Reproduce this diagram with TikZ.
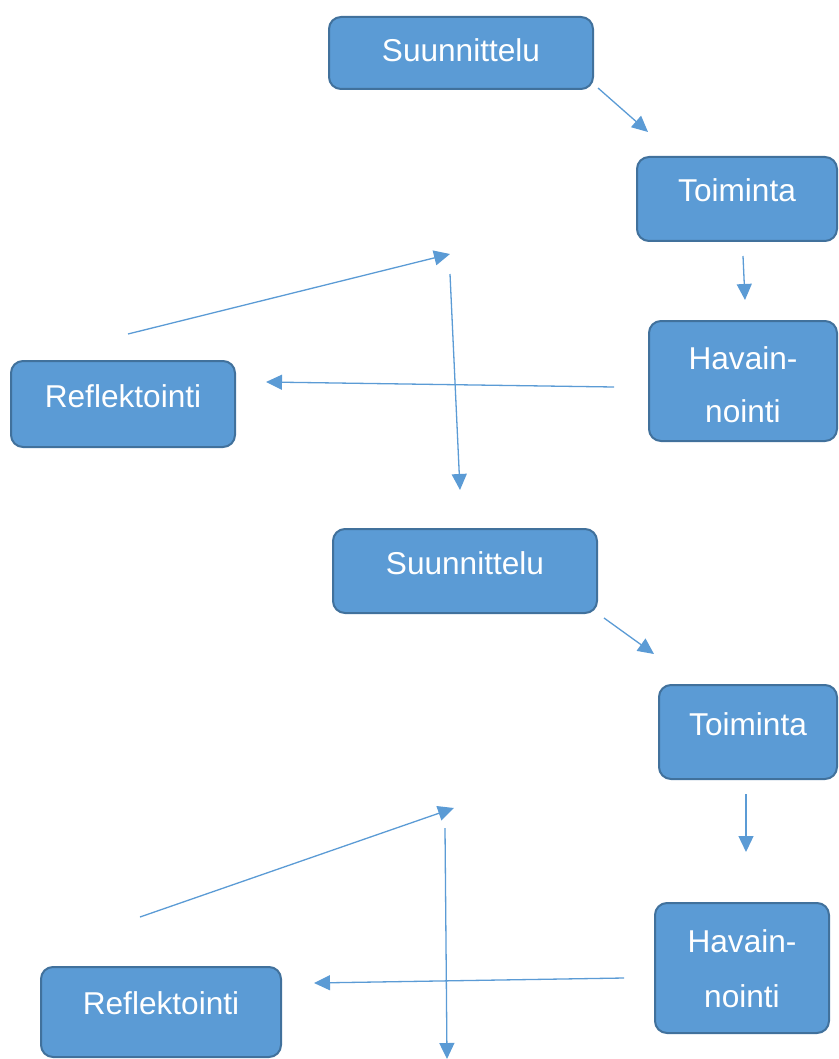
\documentclass[tikz,border=0pt]{standalone}
\usepackage{fontspec}
\setmainfont{Liberation Sans}
\usepackage{tikz}
\usepackage{xcolor}
\usetikzlibrary{arrows.meta}
\definecolor{boxfillc}{HTML}{5B9BD5}
\definecolor{boxdrawc}{HTML}{41719C}
\colorlet{arrowc}{boxfillc}
\colorlet{textc}{white}
\tikzstyle{phasebox} = [
    draw=boxdrawc,
    fill=boxfillc,
    line width=2pt,
    rectangle,
    rounded corners=12pt,
    inner sep=0pt,
    anchor=north west,
    align=center,
    text=textc,
    font=\fontsize{31.6}{53}\selectfont
    ]
\tikzstyle{flowarrow} = [
    draw=arrowc,
    line width=1.3pt,
    -{Triangle[length=16pt,width=15pt]}
    ]

\begin{document}
\begin{tikzpicture}[x=1pt,y=-1pt]
\useasboundingbox (0,0) rectangle (838,1059);
% first round
\node[phasebox, minimum width=264pt, text height=45pt, text depth=27pt] (plan1) at (328,16) {Suunnittelu};
\node[phasebox, minimum width=200pt, text height=45pt, text depth=39pt] (act1) at (636,156) {Toiminta};
\node[phasebox, minimum width=188pt, text height=101pt, text depth=19pt] (obs1) at (648,320) {Havain-\\nointi};
\node[phasebox, minimum width=224pt, text height=46pt, text depth=40pt] (refl1) at (10,360) {Reflektointi};
% second round
\node[phasebox, minimum width=264pt, text height=45pt, text depth=39pt] (plan2) at (332,528) {Suunnittelu};
\node[phasebox, minimum width=178pt, text height=50pt, text depth=44pt] (act2) at (658,684) {Toiminta};
\node[phasebox, minimum width=174pt, text height=104pt, text depth=26pt, font=\fontsize{31.6}{55}\selectfont] (obs2) at (654,902) {Havain-\\nointi};
\node[phasebox, minimum width=240pt, text height=47pt, text depth=43pt] (refl2) at (40,966) {Reflektointi};
% arrow ends
\coordinate (a1s) at (598,88);  \coordinate (a1e) at (648,132);
\coordinate (a2s) at (743,256); \coordinate (a2e) at (745,300);
\coordinate (a3s) at (614,387); \coordinate (a3e) at (266,382);
\coordinate (a4s) at (128,334); \coordinate (a4e) at (450,254);
\coordinate (a5s) at (450,274); \coordinate (a5e) at (460,490);
\coordinate (a6s) at (604,618); \coordinate (a6e) at (654,654);
\coordinate (a7s) at (746,794); \coordinate (a7e) at (746,852);
\coordinate (a8s) at (624,978); \coordinate (a8e) at (314,983);
\coordinate (a9s) at (140,917); \coordinate (a9e) at (454,808);
\coordinate (a10s) at (445,828); \coordinate (a10e) at (447,1059);
\foreach \i in {1,...,10}
    \draw[flowarrow] (a\i s) -- (a\i e);
\end{tikzpicture}
\end{document}
